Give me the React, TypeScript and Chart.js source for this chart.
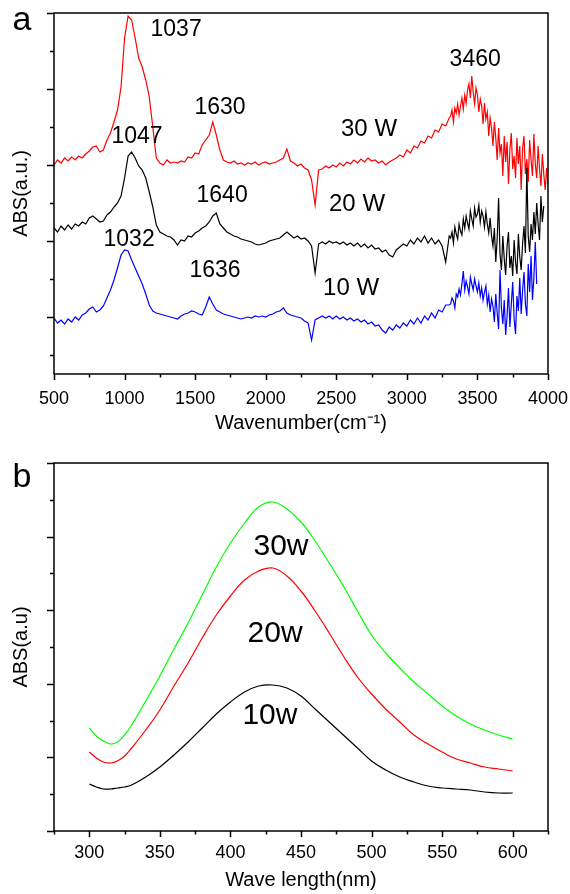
import React, { useEffect, useRef } from 'react';
import { Chart, registerables } from 'chart.js';
Chart.register(...registerables);

const FONT = "'Liberation Sans', Arial, Helvetica, sans-serif";

// ---------- Panel a : FTIR ----------
const wavenumbers = [
  500, 525, 550, 575, 600, 625, 650, 675,
  700, 725, 750, 775, 800, 825, 850, 875,
  900, 925, 950, 975, 1000, 1025, 1050, 1075,
  1100, 1125, 1150, 1175, 1200, 1225, 1250, 1275,
  1300, 1325, 1350, 1375, 1400, 1425, 1450, 1475,
  1500, 1525, 1550, 1575, 1600, 1625, 1650, 1675,
  1700, 1725, 1750, 1775, 1800, 1825, 1850, 1875,
  1900, 1925, 1950, 1975, 2000, 2025, 2050, 2075,
  2100, 2125, 2150, 2175, 2200, 2225, 2250, 2275,
  2300, 2325, 2350, 2375, 2400, 2425, 2450, 2475,
  2500, 2525, 2550, 2575, 2600, 2625, 2650, 2675,
  2700, 2725, 2750, 2775, 2800, 2825, 2850, 2875,
  2900, 2925, 2950, 2975, 3000, 3025, 3050, 3075,
  3100, 3125, 3150, 3175, 3200, 3225, 3250, 3275,
  3300,
  3310, 3320, 3330, 3340, 3350, 3360, 3370, 3380, 3390, 3400,
  3410, 3420, 3430, 3440, 3450, 3460, 3470, 3480, 3490, 3500,
  3510, 3520, 3530, 3540, 3550, 3560, 3570, 3580, 3590, 3600,
  3610, 3620, 3630, 3640, 3650, 3660, 3670, 3680, 3690, 3700,
  3710, 3720, 3730, 3740, 3750, 3760, 3770, 3780, 3790, 3800,
  3810, 3820, 3830, 3840, 3850, 3860, 3870, 3880, 3890, 3900,
  3910, 3920, 3930, 3940, 3950, 3960, 3970, 3980, 3990, 4000,
];

const abs30W = [
  209, 214, 211, 216, 213, 217, 214, 218,
  216, 220, 223, 227, 228, 222, 224, 234,
  241, 252, 264, 287, 336, 358, 354, 336,
  316, 307, 294, 277, 247, 216, 211, 209,
  214, 211, 212, 211, 213, 212, 217, 216,
  221, 220, 229, 234, 239, 252, 239, 224,
  214, 212, 211, 213, 210, 211, 209, 211,
  210, 212, 209, 211, 212, 210, 211, 212,
  214, 216, 225, 213, 211, 208, 210, 206,
  204, 194, 169, 204, 205, 208, 206, 209,
  207, 211, 208, 212, 210, 214, 211, 215,
  212, 216, 213, 214, 211, 213, 209, 212,
  214, 216, 219, 217, 224, 221, 228, 226,
  233, 231, 238, 236, 244, 242, 250, 248,
  256,
  258, 264, 252, 266, 261, 270, 259, 268, 276, 265,
  279, 271, 284, 290, 276, 298, 282, 270, 286, 279,
  262, 275, 268, 250, 271, 255, 262, 238, 256, 246,
  228, 252, 236, 214, 246, 221, 230, 198, 238, 212,
  232, 190, 224, 241, 205, 218, 196, 236, 210, 228,
  184, 226, 238, 200, 215, 192, 234, 214, 198, 240,
  210, 196, 228, 205, 188, 220, 200, 184, 206, 190,
];

const abs20W = [
  146, 142, 148, 144, 149, 145, 150, 148,
  152, 150, 156, 158, 155, 152, 153, 159,
  162, 167, 171, 178, 196, 218, 222, 216,
  208, 204, 196, 182, 167, 149, 142, 140,
  138, 137, 134, 129, 134, 133, 138, 137,
  141, 143, 146, 148, 152, 158, 161, 150,
  146, 142, 140, 138, 137, 135, 134, 133,
  132, 130, 129, 130, 131, 133, 134, 135,
  136, 139, 142, 139, 136, 138, 135, 136,
  133, 128, 101, 130, 132, 130, 133, 131,
  132, 130, 132, 129, 131, 128, 131, 127,
  130, 126, 129, 125, 126, 122, 124, 119,
  117, 124, 127, 130, 128, 134, 130, 136,
  132, 138, 131, 136, 130, 134, 128, 112,
  138,
  136, 142, 131, 147, 140, 135, 150, 143, 139, 155,
  146, 158, 151, 145, 163, 155, 148, 166, 157, 160,
  169, 152, 163, 158, 147, 162, 150, 141, 156, 138,
  128, 146, 112, 135, 176, 120, 104, 138, 115, 99,
  128, 142, 106, 118, 98, 134, 112, 100, 140, 117,
  104, 130, 148, 121, 206, 138, 122, 150, 134, 162,
  140, 171, 150, 134, 178, 152, 168, null, null, null,
];

const abs10W = [
  56, 51, 54, 50, 55, 52, 57, 54,
  59, 61, 65, 67, 62, 64, 68, 76,
  84, 94, 106, 119, 124, 123, 114, 106,
  98, 90, 80, 69, 63, 61, 60, 59,
  58, 57, 56, 55, 58, 60, 61, 63,
  62, 60, 59, 67, 77, 70, 64, 62,
  60, 59, 58, 57, 56, 55, 56, 57,
  56, 58, 57, 58, 57, 59, 60, 62,
  63, 66, 61, 59, 58, 57, 56, 53,
  51, 34, 54, 56, 58, 56, 58, 55,
  58, 55, 57, 54, 56, 53, 55, 52,
  54, 50, 52, 48, 49, 44, 41, 47,
  44, 49, 46, 51, 48, 54, 50, 56,
  51, 58, 54, 61, 56, 64, 62, 69,
  69,
  70, 76, 73, 66, 80, 77, 85, 79, 90, 103,
  84, 93, 87, 80, 97, 90, 84, 95, 88, 82,
  91, 78, 86, 74, 82, 88, 70, 79, 62, 75,
  68, 52, 80, 61, 45, 104, 66, 50, 74, 39,
  58, 86, 47, 70, 92, 55, 40, 78, 63, 96,
  60, 84, 102, 70, 58, 110, 82, 118, 74, 96,
  132, 90, null, null, null, null, null, null, null, null,
];

const xMajorA = [500, 1000, 1500, 2000, 2500, 3000, 3500, 4000];
const xMinorA = [750, 1250, 1750, 2250, 2750, 3250, 3750];
const yMajorA = [57, 133, 209, 285, 361];
const yMinorA = [19, 95, 171, 247, 323];

const labelsA = [
  { text: '1037', x: 1365, y: 344, size: 23 },
  { text: '1630', x: 1676, y: 266, size: 23 },
  { text: '1047', x: 1088, y: 237, size: 23 },
  { text: '1640', x: 1691, y: 178, size: 23 },
  { text: '1032', x: 1032, y: 134, size: 23 },
  { text: '1636', x: 1641, y: 103, size: 23 },
  { text: '3460', x: 3484, y: 314, size: 23 },
  { text: '30 W', x: 2732, y: 245, size: 24 },
  { text: '20 W', x: 2647, y: 170, size: 24 },
  { text: '10 W', x: 2605, y: 86, size: 24 },
];

// ---------- Panel b : UV-Vis ----------
const wavelengths = [
  300, 305, 310, 315, 320, 325, 330,
  340, 350, 360, 370, 380, 390, 400, 410, 420, 430,
  440, 450, 460, 470, 480, 490, 500, 510, 520, 530,
  540, 550, 560, 570, 580, 590, 600,
];
const uv30w = [
  103, 95, 90, 87, 89, 96, 106,
  130, 155, 182, 208, 236, 264, 288, 308, 324, 329,
  322, 309, 290, 268, 245, 220, 196, 178, 163, 149,
  137, 125, 115, 107, 101, 96, 92,
];
const uv20w = [
  79, 73, 69, 68, 70, 75, 83,
  101, 121, 145, 168, 193, 216, 235, 251, 260, 263,
  255, 240, 220, 198, 175, 154, 137, 122, 109, 96,
  87, 79, 72, 68, 64, 62, 60,
];
const uv10w = [
  47, 44, 42, 42, 43, 44, 46,
  54, 64, 76, 89, 103, 117, 129, 139, 145, 146,
  143, 135, 122, 109, 96, 83, 70, 61, 54, 49,
  45, 43, 42, 41, 39, 38, 38,
];

const xMajorB = [300, 350, 400, 450, 500, 550, 600];
const xMinorB = [275, 325, 375, 425, 475, 525, 575, 625];
const yMajorB = [0, 73.6, 147.2, 220.8, 294.4, 368];
const yMinorB = [36.8, 110.4, 184, 257.6, 331.2];

const labelsB = [
  { text: '30w', x: 435.8, y: 284, size: 30 },
  { text: '20w', x: 431.6, y: 197, size: 30 },
  { text: '10w', x: 428, y: 115, size: 30 },
];

type Lbl = { text: string; x: number; y: number; size: number };

function makeDecor(cfg: {
  xMajor: number[]; xMinor: number[]; yMajor: number[]; yMinor: number[];
  labels: Lbl[]; letter: string; letterBaseline: number;
}) {
  return {
    id: 'decor',
    afterDraw(chart: any) {
      const { ctx, chartArea: a, scales } = chart;
      const xs = scales.x;
      const ys = scales.y;
      ctx.save();
      ctx.strokeStyle = '#000';
      ctx.lineWidth = 1.5;
      ctx.strokeRect(a.left, a.top, a.right - a.left, a.bottom - a.top);
      ctx.beginPath();
      for (const v of cfg.xMajor) {
        const p = Math.round(xs.getPixelForValue(v)) + 0.5;
        ctx.moveTo(p, a.bottom); ctx.lineTo(p, a.bottom + 6);
      }
      for (const v of cfg.xMinor) {
        const p = Math.round(xs.getPixelForValue(v)) + 0.5;
        ctx.moveTo(p, a.bottom); ctx.lineTo(p, a.bottom + 3.5);
      }
      for (const v of cfg.yMajor) {
        const p = Math.round(ys.getPixelForValue(v)) + 0.5;
        ctx.moveTo(a.left, p); ctx.lineTo(a.left - 7, p);
      }
      for (const v of cfg.yMinor) {
        const p = Math.round(ys.getPixelForValue(v)) + 0.5;
        ctx.moveTo(a.left, p); ctx.lineTo(a.left - 4, p);
      }
      ctx.stroke();
      ctx.fillStyle = '#000';
      ctx.textAlign = 'center';
      ctx.textBaseline = 'middle';
      for (const l of cfg.labels) {
        ctx.font = `${l.size}px ${FONT}`;
        ctx.fillText(l.text, xs.getPixelForValue(l.x), ys.getPixelForValue(l.y));
      }
      ctx.font = `34px ${FONT}`;
      ctx.textBaseline = 'alphabetic';
      ctx.fillText(cfg.letter, 22, cfg.letterBaseline);
      ctx.restore();
    },
  };
}

function pts(xs: number[], ys: (number | null)[]) {
  return xs.map((x, i) => ({ x, y: ys[i] }));
}

function baseOptions(p: {
  top: number; xMin: number; xMax: number; yMax: number; xAxisH: number;
  tickPad: number; titlePad: number; xTitle: string; yTitle: string; xTicks: number[];
  tension: number;
}) {
  return {
    responsive: false,
    animation: false,
    layout: { padding: { top: p.top, right: 22, left: 0, bottom: 0 } },
    plugins: { legend: { display: false }, tooltip: { enabled: false } },
    elements: {
      point: { radius: 0, hoverRadius: 0 },
      line: { borderWidth: 1.2, tension: p.tension },
    },
    scales: {
      x: {
        type: 'linear',
        min: p.xMin,
        max: p.xMax,
        afterBuildTicks: (s: any) => { s.ticks = p.xTicks.map((v) => ({ value: v })); },
        afterFit: (s: any) => { s.height = p.xAxisH; s.paddingLeft = 0; s.paddingRight = 0; },
        grid: { display: false, drawTicks: false, tickLength: 0 },
        border: { display: false },
        ticks: {
          font: { family: FONT, size: 18 },
          color: '#000',
          padding: p.tickPad,
          autoSkip: false,
          maxRotation: 0,
          callback: (v: any) => String(v),
        },
        title: {
          display: true,
          text: p.xTitle,
          color: '#000',
          font: { family: FONT, size: 20 },
          padding: { top: 0, bottom: p.titlePad },
        },
      },
      y: {
        type: 'linear',
        min: 0,
        max: p.yMax,
        afterFit: (s: any) => { s.width = 54; },
        grid: { display: false, drawTicks: false },
        border: { display: false },
        ticks: { display: false },
        title: {
          display: true,
          text: p.yTitle,
          color: '#000',
          font: { family: FONT, size: 20 },
          padding: { top: 9, bottom: 0 },
        },
      },
    },
  };
}

function buildA(canvas: HTMLCanvasElement) {
  return new Chart(canvas, {
    type: 'line',
    data: {
      datasets: [
        { data: pts(wavenumbers, abs10W), borderColor: '#0000ff', spanGaps: false },
        { data: pts(wavenumbers, abs20W), borderColor: '#000000', spanGaps: false },
        { data: pts(wavenumbers, abs30W), borderColor: '#ff0000', spanGaps: false },
      ],
    },
    options: baseOptions({
      top: 13, xMin: 500, xMax: 4000, yMax: 361, xAxisH: 73, tickPad: 14, titlePad: 12,
      xTitle: 'Wavenumber(cm\u207B\u00B9)', yTitle: 'ABS(a.u.)', xTicks: xMajorA, tension: 0,
    }) as any,
    plugins: [makeDecor({
      xMajor: xMajorA, xMinor: xMinorA, yMajor: yMajorA, yMinor: yMinorA,
      labels: labelsA, letter: 'a', letterBaseline: 30,
    })],
  });
}

function buildB(canvas: HTMLCanvasElement) {
  return new Chart(canvas, {
    type: 'line',
    data: {
      datasets: [
        { data: pts(wavelengths, uv30w), borderColor: '#00ff00' },
        { data: pts(wavelengths, uv20w), borderColor: '#ff0000' },
        { data: pts(wavelengths, uv10w), borderColor: '#000000' },
      ],
    },
    options: baseOptions({
      top: 16, xMin: 275, xMax: 625, yMax: 368, xAxisH: 63, tickPad: 11, titlePad: 2,
      xTitle: 'Wave length(nm)', yTitle: 'ABS(a.u)', xTicks: xMajorB, tension: 0.4,
    }) as any,
    plugins: [makeDecor({
      xMajor: xMajorB, xMinor: xMinorB, yMajor: yMajorB, yMinor: yMinorB,
      labels: labelsB, letter: 'b', letterBaseline: 40,
    })],
  });
}

function ChartCanvas({ build }: { build: (c: HTMLCanvasElement) => Chart }) {
  const ref = useRef<HTMLCanvasElement>(null);
  useEffect(() => {
    const ch = build(ref.current as HTMLCanvasElement);
    return () => ch.destroy();
  }, [build]);
  return (
    <canvas
      ref={ref}
      width={570}
      height={447}
      style={{ display: 'block', width: 570, height: 447 }}
    />
  );
}

export default function App() {
  return (
    <div style={{ position: 'absolute', left: 0, top: 0, width: 570, height: 894, background: '#fff' }}>
      <ChartCanvas build={buildA} />
      <ChartCanvas build={buildB} />
    </div>
  );
}
